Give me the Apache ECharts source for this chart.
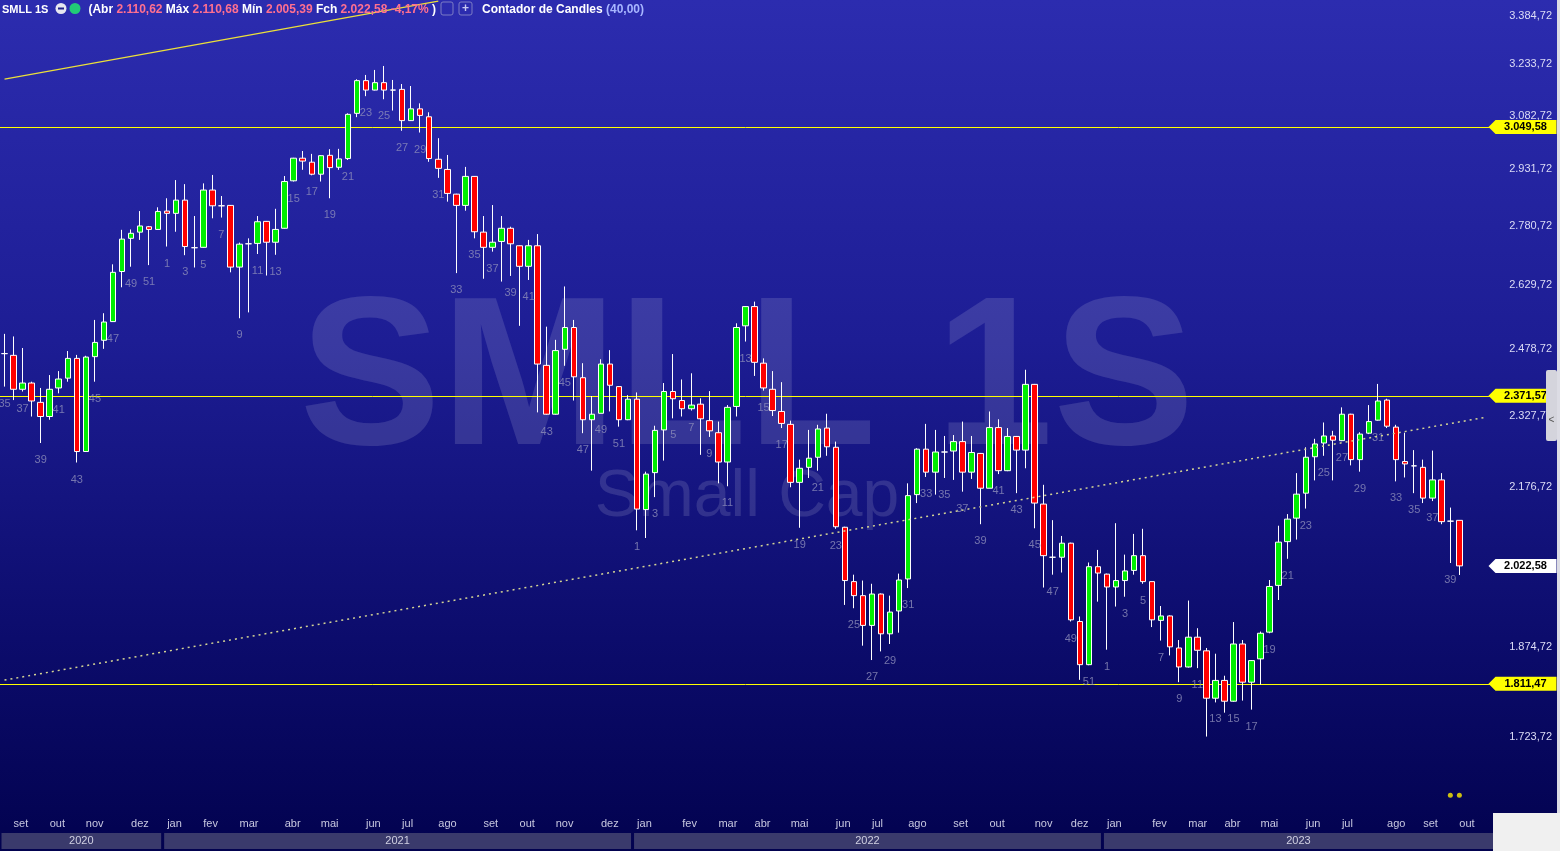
<!DOCTYPE html>
<html><head><meta charset="utf-8">
<script src="https://cdn.jsdelivr.net/npm/echarts@6/dist/echarts.min.js"></script>
<style>
html,body{margin:0;padding:0;width:1560px;height:851px;overflow:hidden;background:#00004e;}
#c{width:1560px;height:851px;background:linear-gradient(to bottom,#2c2caf 0%,#1d1d94 40%,#0c0c6c 75%,#02024f 100%);}
</style></head><body><div id="c"></div>
<script>
// ---------- DATA ----------
const firstWeekMonday = '2020-08-24';
const firstWeekNumber = 35;
const emptySlotsAfter = 3;
// [open, close, low, high] per weekly candle
const candles2020 = [
 [2467,2467,2392,2513],[2463,2386,2362,2507],[2386,2400,2381,2480],[2400,2360,2326,2403],
 [2357,2326,2269,2389],[2326,2386,2319,2418],[2389,2409,2377,2427],[2411,2456,2403,2473],
 [2456,2251,2228,2464],[2251,2459,2250,2462],[2460,2493,2403,2546],[2498,2541,2478,2562],
 [2542,2662,2541,2682],[2664,2746,2625,2770],[2748,2761,2676,2771],[2764,2780,2744,2819],
 [2778,2771,2680,2780],[2771,2818,2770,2829]
];
const candles2021 = [
 [2819,2813,2727,2853],[2813,2848,2765,2902],[2848,2727,2705,2891],[2724,2724,2674,2806],
 [2725,2875,2724,2893],[2875,2833,2800,2916],[2833,2833,2802,2859],[2834,2675,2662,2835],
 [2675,2733,2550,2737],[2734,2734,2564,2748],[2735,2791,2708,2806],[2792,2738,2654,2793],
 [2738,2771,2706,2825],[2774,2898,2773,2913],[2900,2962,2898,2963],[2962,2954,2930,2982],
 [2951,2918,2915,2974],[2918,2969,2898,2970],[2970,2936,2853,2987],[2937,2960,2930,2988],
 [2961,3086,2957,3089],[3089,3185,3078,3189],[3185,3157,3139,3202],[3157,3179,3156,3217],
 [3179,3157,3130,3229],[3157,3157,3097,3187],[3159,3068,3039,3175],[3068,3102,3067,3169],
 [3102,3083,3034,3118],[3079,2961,2952,3092],[2959,2934,2908,3018],[2931,2866,2844,2971],
 [2864,2834,2660,2865],[2834,2912,2820,2938],[2912,2765,2748,2913],[2764,2725,2646,2806],
 [2725,2738,2714,2835],[2740,2774,2639,2806],[2774,2734,2653,2778],[2729,2677,2532,2730],
 [2677,2729,2643,2744],[2729,2443,2335,2759],[2440,2331,2330,2530],[2331,2474,2330,2499],
 [2477,2528,2439,2627],[2528,2414,2361,2546],[2412,2319,2290,2445],[2319,2331,2211,2371],
 [2333,2443,2333,2454],[2443,2395,2337,2475],[2392,2319,2304,2393],[2319,2364,2318,2373]
];
const candles2022 = [
 [2364,2133,2091,2379],[2132,2204,2076,2209],[2207,2296,2157,2306],[2297,2381,2232,2400],
 [2381,2365,2322,2466],[2361,2343,2326,2408],[2343,2351,2339,2422],[2353,2321,2244,2366],
 [2317,2295,2282,2382],[2291,2229,2185,2315],[2229,2346,2179,2351],[2348,2528,2326,2538],
 [2532,2578,2495,2579],[2578,2447,2416,2590],[2445,2389,2383,2456],[2386,2339,2327,2427],
 [2337,2311,2301,2402],[2309,2187,2177,2317],[2187,2216,2096,2234],[2218,2237,2196,2297],
 [2239,2299,2211,2308],[2301,2261,2242,2332],[2260,2098,2094,2272],[2097,1995,1950,2098],
 [1993,1967,1944,2006],[1967,1913,1877,1995],[1913,1970,1852,1989],[1970,1898,1867,1971],
 [1898,1937,1880,1967],[1939,1996,1900,2008],[1998,2160,1981,2185],[2162,2256,2145,2258],
 [2256,2208,2198,2310],[2208,2250,2162,2297],[2250,2250,2196,2284],[2252,2272,2192,2286],
 [2272,2208,2168,2315],[2208,2249,2194,2284],[2247,2175,2103,2248],[2175,2302,2175,2337],
 [2302,2211,2204,2320],[2211,2283,2210,2301],[2283,2254,2165,2284],[2254,2397,2216,2430],
 [2397,2145,2095,2398],[2143,2042,1982,2182],[2039,2039,2006,2111],[2039,2066,2010,2080],
 [2066,1923,1920,2067],[1920,1844,1818,1929],[1844,2021,1843,2029],[2021,2009,1956,2053]
];
const candles2023 = [
 [2007,1983,1870,2008],[1983,1995,1947,2105],[1995,2013,1965,2044],[2014,2042,2006,2084],
 [2042,1993,1989,2094],[1993,1923,1910,1993],[1922,1930,1886,1948],[1930,1875,1860,1931],
 [1873,1840,1814,1887],[1840,1892,1839,1958],[1892,1869,1838,1908],[1868,1787,1724,1873],
 [1787,1817,1780,1863],[1817,1782,1763,1825],[1782,1880,1781,1919],[1880,1814,1783,1887],
 [1814,1851,1768,1852],[1854,1899,1810,1902],[1901,1984,1899,1996],[1986,2068,1959,2100],
 [2069,2113,2036,2123],[2115,2163,2073,2206],[2165,2239,2134,2260],[2240,2267,2191,2278],
 [2269,2284,2242,2313],[2284,2275,2191,2295],[2274,2331,2273,2346],[2331,2234,2222,2332],
 [2234,2288,2209,2292],[2290,2315,2288,2351],[2318,2360,2317,2398],[2362,2305,2301,2365],
 [2303,2234,2189,2308],[2230,2225,2197,2291],[2221,2221,2165,2254],[2218,2155,2145,2234],
 [2155,2192,2149,2253],[2192,2108,2103,2206],[2109,2109,2028,2136],
 [2110.62,2022.58,2005.39,2110.68]
];
const yTickValues = [1723.72,1874.72,2176.72,2327.72,2478.72,2629.72,2780.72,2931.72,3082.72,3233.72,3384.72];
const levelLines = [3049.58, 2371.57, 1811.47];
const lastClose = 2022.58;
const trendSolid = [[0, 3189.5], [48, 3431]];
const trendDotted = [[0, 1817.6], [164, 2324.7]];
const eventDots = [[160, 1632], [161, 1632]];
const monthNames = ['jan','fev','mar','abr','mai','jun','jul','ago','set','out','nov','dez'];
const headerValues = {abr:'2.110,62', max:'2.110,68', min:'2.005,39', fch:'2.022,58', chg:'-4,17%', counter:'(40,00)'};

// ---------- BUILD ----------
const candles = [].concat(candles2020, candles2021, candles2022, candles2023);
const slotCount = candles.length + emptySlotsAfter;
const DAY = 864e5;
const start = new Date(firstWeekMonday + 'T00:00:00Z').getTime();
const categories = [], refDates = [];
for (let i = 0; i < slotCount; i++) {
  const mon = new Date(start + i * 7 * DAY);
  categories.push(mon.toISOString().slice(0, 10));
  refDates.push(new Date(start + (i + 1) * 7 * DAY)); // following Monday marks the period
}
const weekNo = [];
for (let i = 0; i < slotCount; i++) {
  if (i === 0) weekNo.push(firstWeekNumber);
  else weekNo.push(refDates[i].getUTCFullYear() !== refDates[i-1].getUTCFullYear() ? 1 : weekNo[i-1] + 1);
}
const monthLabelAt = {};
for (let i = 1; i < slotCount; i++) {
  if (refDates[i].getUTCMonth() !== refDates[i-1].getUTCMonth()) monthLabelAt[i] = monthNames[refDates[i].getUTCMonth()];
}
const yearSpans = [];
for (let i = 0; i < slotCount; i++) {
  const y = refDates[i].getUTCFullYear();
  if (!yearSpans.length || yearSpans[yearSpans.length-1].year !== y) yearSpans.push({year: y, from: i, to: i});
  else yearSpans[yearSpans.length-1].to = i;
}
const candleData = candles.map(c => c.slice());
const counterLabels = [];
candles.forEach((c, i) => { if (weekNo[i] % 2 === 1) counterLabels.push([i, c[2], weekNo[i]]); });

function fmtBR(v) {
  const s = Number(v).toFixed(2).split('.');
  return s[0].replace(/\B(?=(\d{3})+(?!\d))/g, '.') + ',' + s[1];
}
const FONT = '"Liberation Sans", Arial, sans-serif';
const NARROW = '"Liberation Sans Narrow", "Liberation Sans", Arial, sans-serif';
const tagPath = 'path://M0,7L7,0L68,0L68,14L7,14Z';

const chart = echarts.init(document.getElementById('c'), null, {renderer: 'canvas'});
chart.setOption({
  animation: false,
  backgroundColor: 'transparent',
  title: {
    left: 2, top: 1, padding: 0,
    text: '{a|SMLL 1S}{g1|}{b|(Abr }{v|' + headerValues.abr + ' }{b|Máx }{v|' + headerValues.max + ' }{b|Mín }{v|' + headerValues.min + ' }{b|Fch }{v|' + headerValues.fch + ' ' + headerValues.chg + ' }{b|)}{g2|}{b|Contador de Candles }{c|' + headerValues.counter + '}',
    textStyle: {
      rich: {
        a: {color: '#ffffff', fontWeight: 'bold', fontSize: 11, fontFamily: FONT},
        g1: {width: 40},
        b: {color: '#ffffff', fontWeight: 'bold', fontSize: 12, fontFamily: FONT},
        v: {color: '#ff7090', fontSize: 12, fontFamily: FONT},
        g2: {width: 46},
        c: {color: '#a8b6ff', fontSize: 12, fontWeight: 'bold', fontFamily: FONT}
      }
    },
    z: 10
  },
  graphic: [
    {type: 'text', z: 0, silent: true, style: {x: 747, y: 386, text: 'SMLL 1S', font: 'bold 212px ' + FONT, fill: 'rgba(255,255,255,0.13)', textAlign: 'center', textVerticalAlign: 'middle'}},
    {type: 'text', z: 0, silent: true, style: {x: 747, y: 498, text: 'Small Cap', font: '66px ' + FONT, fill: 'rgba(255,255,255,0.13)', textAlign: 'center', textVerticalAlign: 'middle'}},
    {type: 'circle', z: 10, silent: true, shape: {cx: 61, cy: 8.5, r: 5.5}, style: {fill: '#e6e6f0'}},
    {type: 'rect', z: 11, silent: true, shape: {x: 58, y: 7.5, width: 6, height: 2}, style: {fill: '#20208a'}},
    {type: 'circle', z: 10, silent: true, shape: {cx: 75, cy: 8.5, r: 5.5}, style: {fill: '#22cc77'}},
    {type: 'rect', z: 10, silent: true, shape: {x: 441, y: 2, width: 12, height: 13, r: 2}, style: {fill: 'none', stroke: '#7c7cc4', lineWidth: 1}},
    {type: 'rect', z: 10, silent: true, shape: {x: 459, y: 2, width: 13, height: 13, r: 2}, style: {fill: 'none', stroke: '#7c7cc4', lineWidth: 1}},
    {type: 'text', z: 10, silent: true, style: {x: 465.5, y: 9, text: '+', font: 'bold 12px ' + FONT, fill: '#c8c8f0', textAlign: 'center', textVerticalAlign: 'middle'}},
    {type: 'rect', z: 10, silent: true, shape: {x: 1557, y: 0, width: 3, height: 851}, style: {fill: '#dcdce4'}},
    {type: 'rect', z: 10, silent: true, shape: {x: 1546, y: 370, width: 11, height: 71, r: 2}, style: {fill: '#d4d4dc'}},
    {type: 'text', z: 11, silent: true, style: {x: 1551.5, y: 420, text: '<', font: '10px ' + FONT, fill: '#555', textAlign: 'center', textVerticalAlign: 'middle'}},
    {type: 'rect', z: 10, silent: true, shape: {x: 1493, y: 813, width: 67, height: 38}, style: {fill: '#f0f0f0'}}
  ],
  grid: [
    {left: 0, top: 0, width: 1491, height: 813, outerBoundsMode: 'none', containLabel: false},
    {left: 0, top: 833, width: 1491, height: 16, outerBoundsMode: 'none', containLabel: false}
  ],
  xAxis: [
    {
      type: 'category', gridIndex: 0, data: categories, boundaryGap: true,
      axisLine: {show: false}, axisTick: {show: false}, splitLine: {show: false},
      axisLabel: {
        color: '#c8c8e0', fontSize: 11, fontFamily: NARROW, align: 'left', margin: 5,
        interval: (i) => monthLabelAt[i] !== undefined,
        formatter: (v, i) => monthLabelAt[i] || ''
      }
    },
    {type: 'category', gridIndex: 1, data: categories, boundaryGap: true, show: false}
  ],
  yAxis: [
    {
      type: 'log', logBase: 10, gridIndex: 0, position: 'right', min: 1605, max: 3434.6,
      axisLine: {show: false}, axisTick: {show: false}, splitLine: {show: false},
      axisLabel: {customValues: yTickValues, formatter: (v) => fmtBR(v), color: '#dcdcf6', fontSize: 11, fontFamily: FONT, align: 'right', margin: 61, padding: [5, 0, 0, 0]}
    },
    {type: 'value', gridIndex: 1, min: 0, max: 1, show: false}
  ],
  series: [
    {
      type: 'custom', xAxisIndex: 0, yAxisIndex: 0, silent: true, z: 2,
      data: levelLines.map(v => [0, v]),
      renderItem: (params, api) => {
        const cs = params.coordSys;
        const y = Math.round(api.coord([0, api.value(1)])[1]) + 0.5;
        return {type: 'line', shape: {x1: cs.x, y1: y, x2: cs.x + cs.width, y2: y}, style: {stroke: '#ffff00', lineWidth: 1}};
      }
    },
    {
      type: 'candlestick', xAxisIndex: 0, yAxisIndex: 0, data: candleData, barWidth: 6, clip: false, z: 3,
      itemStyle: {color: '#00ee00', color0: '#ff0000', borderColor: '#ffffff', borderColor0: '#ffffff', borderColorDoji: '#ffffff', borderWidth: 1},
      markLine: {
        silent: true, symbol: ['none', 'none'], label: {show: false}, animation: false,
        data: [
          [{coord: trendSolid[0], lineStyle: {color: '#ece03a', width: 1.2, type: 'solid'}}, {coord: trendSolid[1]}],
          [{coord: trendDotted[0], lineStyle: {color: '#d4d494', width: 1.5, type: [2, 4]}}, {coord: trendDotted[1]}]
        ]
      },
      markPoint: {
        silent: true, animation: false, symbol: tagPath, symbolSize: [68, 14], symbolKeepAspect: false,
        data: levelLines.map(v => ({coord: [slotCount - 1, v], value: v, symbolOffset: [36, 0], itemStyle: {color: '#ffff00'}}))
          .concat([{coord: [slotCount - 1, lastClose], value: lastClose, symbolOffset: [36, 0], itemStyle: {color: '#ffffff'}}]),
        label: {show: true, position: 'inside', offset: [3, 0], formatter: (p) => fmtBR(p.value), color: '#000000', fontWeight: 'bold', fontSize: 11, fontFamily: FONT}
      }
    },
    {
      type: 'scatter', xAxisIndex: 0, yAxisIndex: 0, data: counterLabels, symbolSize: 1, silent: true, z: 4,
      itemStyle: {color: 'rgba(0,0,0,0)'},
      label: {show: true, position: 'bottom', distance: 11, formatter: (p) => String(p.data[2]), color: '#8e8eba', fontSize: 11, fontFamily: FONT}
    },
    {
      type: 'scatter', xAxisIndex: 0, yAxisIndex: 0, data: eventDots, symbolSize: 5, silent: true, z: 4,
      itemStyle: {color: '#ffee00'}
    },
    {
      type: 'custom', xAxisIndex: 1, yAxisIndex: 1, silent: true,
      data: yearSpans.map(s => [s.from, s.to]),
      renderItem: (params, api) => {
        const span = yearSpans[params.dataIndex];
        const half = api.size([1, 0])[0] / 2;
        const a = api.coord([api.value(0), 1]);
        const b = api.coord([api.value(1), 0]);
        const x0 = Math.max(0, a[0] - half + 1.5);
        const x1 = (params.dataIndex === yearSpans.length - 1) ? b[0] + half + 2 : b[0] + half - 1.5;
        return {
          type: 'group',
          children: [
            {type: 'rect', shape: {x: x0, y: a[1], width: x1 - x0, height: b[1] - a[1]}, style: {fill: '#3a3a6c'}},
            {type: 'text', style: {x: (x0 + x1) / 2, y: (a[1] + b[1]) / 2, text: String(span.year), textAlign: 'center', textVerticalAlign: 'middle', fill: '#d0d0e2', font: '11px ' + NARROW}}
          ]
        };
      }
    }
  ]
});
</script></body></html>
